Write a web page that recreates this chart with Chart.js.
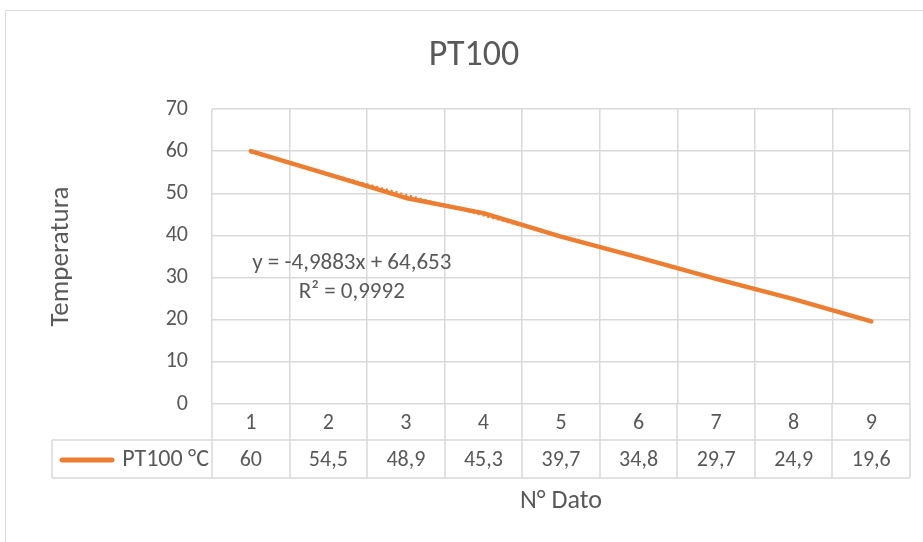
<!DOCTYPE html>
<html><head><meta charset="utf-8">
<script src="https://cdn.jsdelivr.net/npm/chart.js@4"></script>
<style>html,body{margin:0;padding:0;background:#fff}canvas{display:block}</style>
</head><body>
<canvas id="c" width="923" height="542"></canvas>
<script>
const categories = ['1','2','3','4','5','6','7','8','9'];
const pt100 = [60, 54.5, 48.9, 45.3, 39.7, 34.8, 29.7, 24.9, 19.6];
const trend = [59.66, null, null, null, null, null, null, null, 19.76];
const yTicks = [0, 10, 20, 30, 40, 50, 60, 70];
const seriesName = 'PT100 °C';
const chartTitle = 'PT100';
const yTitle = 'Temperatura';
const xTitle = 'N° Dato';
const eqLines = ['y = -4,9883x + 64,653', 'R² = 0,9992'];

const FONT = 'Carlito, Lato, sans-serif';
const TXT = '#595959';
const GRID = '#d9d9d9';
const ORANGE = '#ED7D31';

const fmt = v => String(v).replace('.', ',');

const tablePlugin = {
  id: 'tbl',
  afterDraw(chart) {
    const ctx = chart.ctx, x = chart.scales.x, y = chart.scales.y, a = chart.chartArea;
    ctx.save();
    ctx.strokeStyle = GRID; ctx.lineWidth = 1;
    ctx.beginPath(); ctx.moveTo(5.5, 542); ctx.lineTo(5.5, 10.5); ctx.lineTo(923, 10.5); ctx.stroke();
    const half = (x.getPixelForValue(1) - x.getPixelForValue(0)) / 2;
    const r0 = a.bottom, r1 = a.bottom + 36, r2 = a.bottom + 74;
    const legL = 52;
    ctx.strokeStyle = GRID; ctx.lineWidth = 1.5;
    ctx.beginPath();
    ctx.moveTo(legL, r1); ctx.lineTo(a.right, r1);
    ctx.moveTo(legL, r2); ctx.lineTo(a.right, r2);
    ctx.moveTo(legL, r1); ctx.lineTo(legL, r2);
    for (let i = 0; i <= categories.length; i++) {
      const px = Math.round(x.getPixelForValue(i) - half);
      ctx.moveTo(px, r0); ctx.lineTo(px, r2);
    }
    ctx.stroke();
    ctx.fillStyle = TXT; ctx.font = '22px ' + FONT; ctx.textAlign = 'center'; ctx.textBaseline = 'middle';
    categories.forEach((c, i) => {
      const px = x.getPixelForValue(i);
      ctx.fillText(c, px, (r0 + r1) / 2 + 1);
      ctx.fillText(fmt(pt100[i]), px, (r1 + r2) / 2 + 1);
    });
    ctx.strokeStyle = ORANGE; ctx.lineWidth = 5; ctx.lineCap = 'round';
    ctx.beginPath(); ctx.moveTo(62, (r1 + r2) / 2 + 1); ctx.lineTo(112, (r1 + r2) / 2 + 1); ctx.stroke();
    ctx.textAlign = 'right';
    ctx.font = '24px ' + FONT;
    ctx.fillText(seriesName, a.left - 3, (r1 + r2) / 2 + 1);
    ctx.textAlign = 'center';
    ctx.font = '36px ' + FONT;
    ctx.fillText(chartTitle, 474, 56);
    ctx.font = '26px ' + FONT;
    ctx.fillText(xTitle, (a.left + a.right) / 2, 501);
    ctx.save();
    ctx.translate(61, (a.top + a.bottom) / 2);
    ctx.rotate(-Math.PI / 2);
    ctx.font = '27px ' + FONT;
    ctx.fillText(yTitle, 0, 0);
    ctx.restore();
    ctx.font = '23px ' + FONT;
    const ex = x.getPixelForValue(0) + 101;
    ctx.fillText(eqLines[0], ex, y.getPixelForValue(33.5));
    ctx.fillText(eqLines[1], ex, y.getPixelForValue(26.6));
    ctx.restore();
  }
};

new Chart(document.getElementById('c'), {
  type: 'line',
  data: {
    labels: categories,
    datasets: [
      { label: 'trend', data: trend, spanGaps: true, borderColor: ORANGE, borderWidth: 2, borderDash: [2, 3], pointRadius: 0, order: 2 },
      { label: seriesName, data: pt100, borderColor: ORANGE, borderWidth: 4.5, pointRadius: 0, borderCapStyle: 'round', borderJoinStyle: 'round', tension: 0, order: 1 }
    ]
  },
  options: {
    responsive: false,
    animation: false,
    layout: { padding: { top: 109, right: 13, left: 0, bottom: 0 } },
    plugins: { legend: { display: false }, tooltip: { enabled: false }, title: { display: false } },
    scales: {
      x: {
        offset: true,
        grid: { offset: true, color: GRID, lineWidth: 1.5, drawTicks: false },
        border: { display: false },
        ticks: { display: false },
        afterFit(s) { s.height = 138; }
      },
      y: {
        min: 0, max: 70,
        afterBuildTicks(s) { s.ticks = yTicks.map(v => ({ value: v })); },
        grid: { color: GRID, lineWidth: 1.5, drawTicks: false },
        border: { display: false },
        ticks: { color: TXT, font: { family: FONT, size: 22 }, padding: 24 },
        afterFit(s) { s.width = 212; }
      }
    }
  },
  plugins: [tablePlugin]
});
</script>
</body></html>
